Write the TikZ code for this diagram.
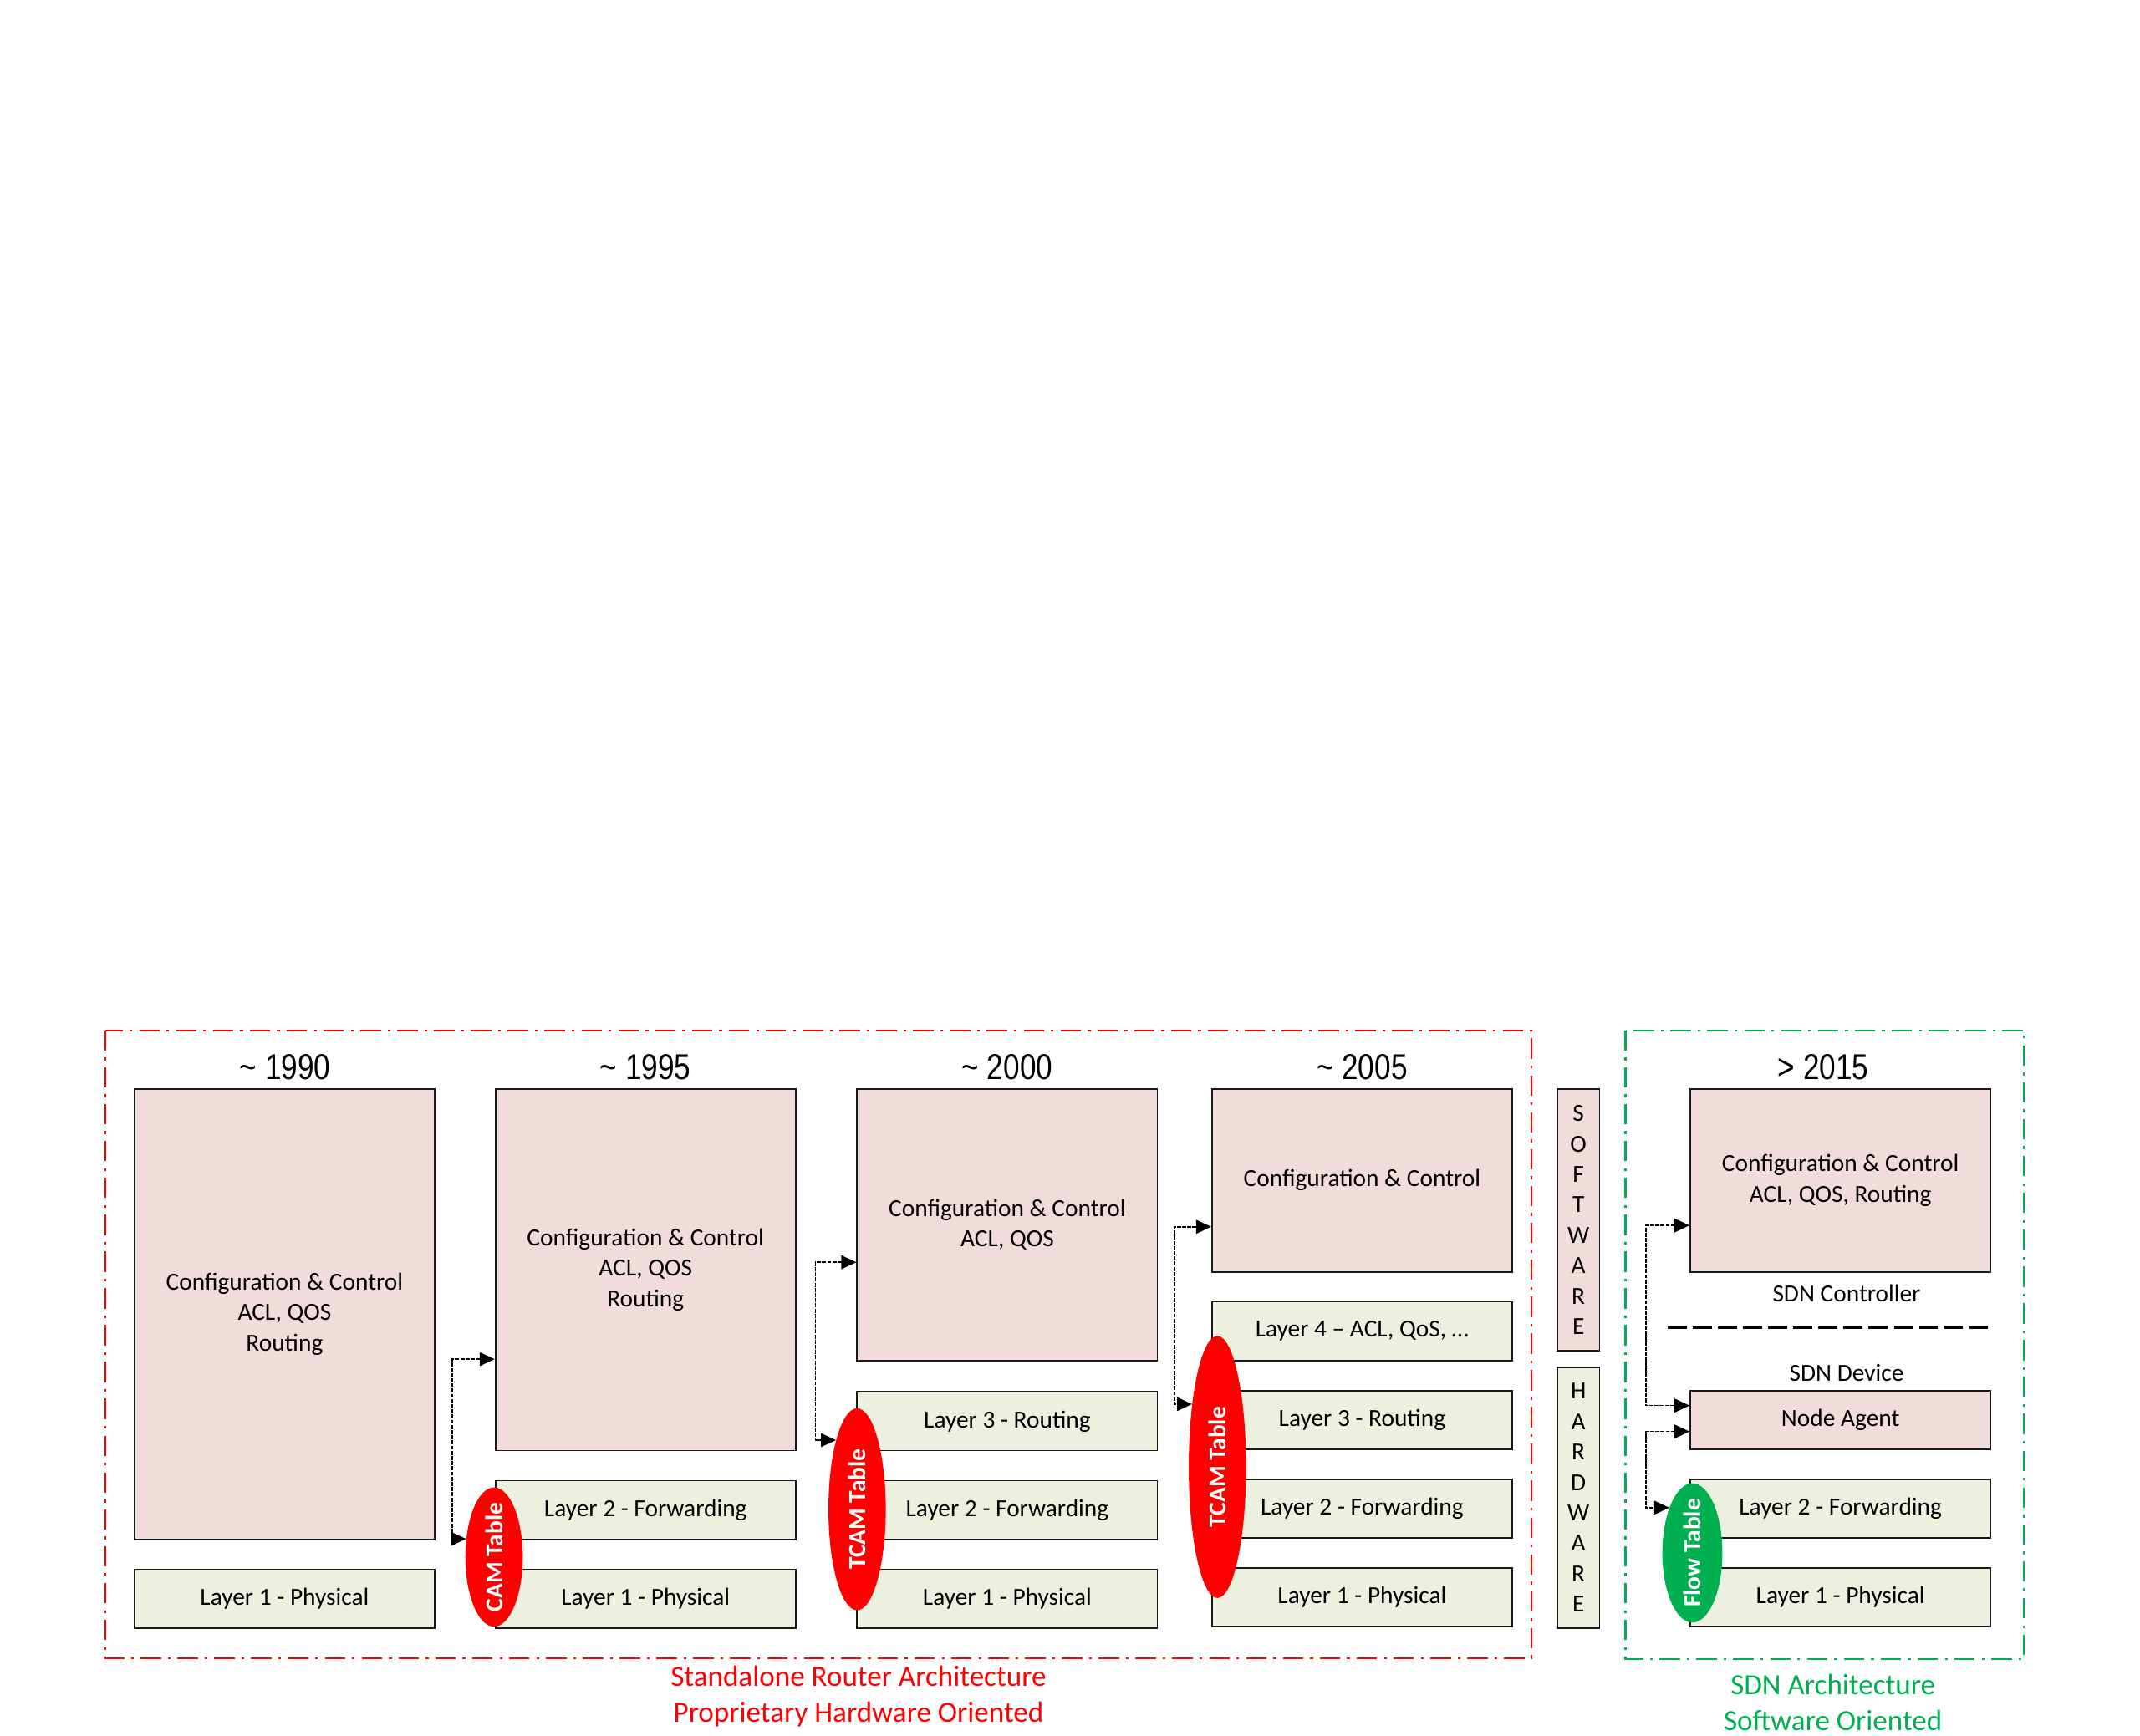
\documentclass[tikz,border=0pt]{standalone}
\usepackage{fontspec}
\setmainfont{Carlito}
\newfontfamily\yearfont[FakeStretch=0.82]{Liberation Sans}
\usetikzlibrary{arrows.meta,shapes.geometric}
\definecolor{ppink}{HTML}{F2DCDB}
\definecolor{pgreen}{HTML}{EBF1DE}
\definecolor{dred}{HTML}{FF0000}
\definecolor{dgreen}{HTML}{00B050}
\tikzset{
  blk/.style={draw=black!90,line width=1.1pt,minimum width=220pt,inner sep=0pt,align=center,
              font=\fontsize{18}{22.3}\selectfont},
  ctrl/.style={blk,fill=ppink},
  lyr/.style={blk,fill=pgreen,minimum height=43pt},
  tbl/.style={ellipse,inner sep=0pt,minimum width=42pt},
  tbltxt/.style={rotate=90,inner sep=0pt,text=white,font=\bfseries\fontsize{18}{20}\selectfont},
  yr/.style={font=\yearfont\fontsize{26.3}{30}\selectfont},
  arr/.style={{Triangle[length=11pt,width=10pt]}-{Triangle[length=11pt,width=10pt]},
              line width=1pt,dash pattern=on 3pt off 0.8pt},
  frm/.style={line width=1.3pt,dash pattern=on 15pt off 5pt on 2pt off 5pt},
  sepline/.style={line width=2pt,dash pattern=on 14pt off 4.4pt},
  lbl/.style={font=\fontsize{18}{22}\selectfont},
  captxt/.style={align=center,font=\fontsize{21.5}{26}\selectfont},
}
\begin{document}
\begin{tikzpicture}[x=1pt,y=-1pt]
\useasboundingbox (0,0) rectangle (1568,1272);
% frames
\draw[frm,dred] (77,755) rectangle (1122,1215);
\draw[frm,dgreen] (1191,755) rectangle (1483,1216);
% ~1990
\node[yr] (yra) at (209,782) {\textasciitilde{} 1990};
\node[ctrl,minimum height=330pt] (cfga) at (208.5,963) {Configuration \& Control\\ACL, QOS\\Routing};
\node[lyr] (phya) at (208.5,1171.5) {Layer 1 - Physical};
% ~1995
\node[yr] (yrb) at (473,782) {\textasciitilde{} 1995};
\node[ctrl,minimum height=265pt] (cfgb) at (473,930.5) {Configuration \& Control\\ACL, QOS\\Routing};
\node[lyr] (fwdb) at (473,1106.5) {Layer 2 - Forwarding};
\node[lyr] (phyb) at (473,1171.5) {Layer 1 - Physical};
\node[tbl,fill=dred,minimum height=102pt] (camb) at (362,1141) {};
\node[tbltxt] (camtxt) at (camb) {CAM Table};
% ~2000
\node[yr] (yrc) at (738,782) {\textasciitilde{} 2000};
\node[ctrl,minimum height=199pt] (cfgc) at (738,897.5) {Configuration \& Control\\ACL, QOS};
\node[lyr] (rtec) at (738,1041.5) {Layer 3 - Routing};
\node[lyr] (fwdc) at (738,1106.5) {Layer 2 - Forwarding};
\node[lyr] (phyc) at (738,1171.5) {Layer 1 - Physical};
\node[tbl,fill=dred,minimum height=148pt] (tcamc) at (628,1106) {};
\node[tbltxt] (tcamctxt) at (tcamc) {TCAM Table};
% ~2005
\node[yr] (yrd) at (998,782) {\textasciitilde{} 2005};
\node[ctrl,minimum height=134pt] (cfgd) at (998,865) {Configuration \& Control};
\node[lyr] (acld) at (998,975.5) {Layer 4 – ACL, QoS, …};
\node[lyr] (rted) at (998,1040.5) {Layer 3 - Routing};
\node[lyr] (fwdd) at (998,1105.5) {Layer 2 - Forwarding};
\node[lyr] (phyd) at (998,1170.5) {Layer 1 - Physical};
\node[tbl,fill=dred,minimum height=192pt] (tcamd) at (892,1075) {};
\node[tbltxt] (tcamdtxt) at (tcamd) {TCAM Table};
% software / hardware split
\node[blk,fill=ppink,minimum width=31pt,minimum height=192pt] (sw) at (1156.5,894) {S\\O\\F\\T\\W\\A\\R\\E};
\node[blk,fill=pgreen,minimum width=31pt,minimum height=191pt] (hw) at (1156.5,1097.5) {H\\A\\R\\D\\W\\A\\R\\E};
% >2015 sdn
\node[yr] (yre) at (1336,782) {> 2015};
\node[ctrl,minimum height=134pt] (cfge) at (1348.5,865) {Configuration \& Control\\ACL, QOS, Routing};
\node[lbl] (ctle) at (1353,948) {SDN Controller};
\draw[sepline] (1222,973) -- (1459,973);
\node[lbl] (deve) at (1353,1006) {SDN Device};
\node[ctrl,minimum height=43pt] (agte) at (1348.5,1040.5) {Node Agent};
\node[lyr] (fwde) at (1348.5,1105.5) {Layer 2 - Forwarding};
\node[lyr] (phye) at (1348.5,1170.5) {Layer 1 - Physical};
\node[tbl,fill=dgreen,minimum width=44pt,minimum height=102pt] (flowe) at (1240,1138) {};
\node[tbltxt] (flowtxt) at (flowe) {Flow Table};
% captions
\node[captxt,text=dred] (capa) at (629,1243) {Standalone Router Architecture\\Proprietary Hardware Oriented};
\node[captxt,text=dgreen] (capb) at (1343,1247.5) {SDN Architecture\\Software Oriented};
% table links
\draw[arr] ([yshift=-65.5pt]cfgb.west) -- ++(-31,0) |- (camb.147);
\draw[arr] ([yshift=-27.5pt]cfgc.west) -- ++(-30,0) |- (tcamc.107);
\draw[arr] ([yshift=-34pt]cfgd.west) -- ++(-27,0) |- (tcamd.112);
\draw[arr] ([yshift=-33pt]cfge.west) -- ++(-32,0) |- ([yshift=10.5pt]agte.west);
\draw[arr] ([yshift=-8.5pt]agte.west) -- ++(-32,0) |- (flowe.117);
\end{tikzpicture}
\end{document}
